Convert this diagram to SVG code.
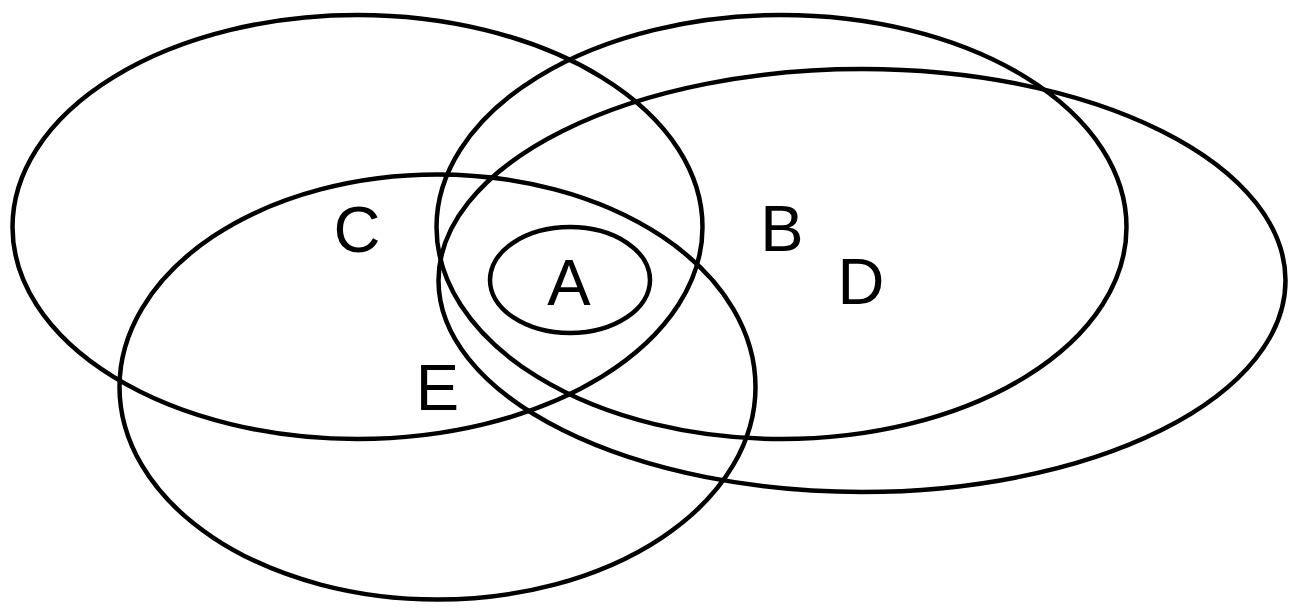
<svg xmlns="http://www.w3.org/2000/svg" width="1303" height="616" viewBox="0 0 1303 616">
<style>
.set{fill:none;stroke:#000;stroke-width:4.5}
.lbl{font-family:"Liberation Sans",Arial,sans-serif;font-size:65px;fill:#000;text-anchor:middle}
</style>
<rect width="1303" height="616" fill="#fff"/>
<g id="C"><ellipse class="set" cx="357.5" cy="227" rx="345" ry="212"/><text class="lbl" x="357" y="252">C</text></g>
<g id="B"><ellipse class="set" cx="781.5" cy="227" rx="345" ry="212"/><text class="lbl" x="782" y="251">B</text></g>
<g id="D"><ellipse class="set" cx="862" cy="280.5" rx="423.5" ry="211.5"/><text class="lbl" x="861" y="304">D</text></g>
<g id="E"><ellipse class="set" cx="437.5" cy="387" rx="318" ry="212.5"/><text class="lbl" x="437.5" y="410">E</text></g>
<g id="A"><ellipse class="set" cx="570" cy="280" rx="80" ry="53"/><text class="lbl" x="569" y="305">A</text></g>
<g id="connectors"></g>
</svg>
